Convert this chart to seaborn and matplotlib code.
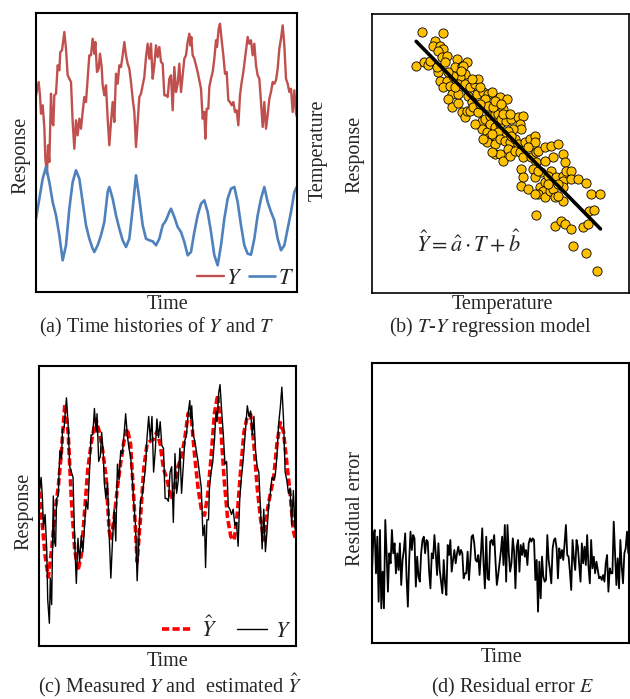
"""
Four-panel figure: time histories, T-Y regression, fitted response, residual error
"""

import numpy as np
import pandas as pd
import matplotlib
matplotlib.use("Agg")
import matplotlib.pyplot as plt
import seaborn as sns

# ---- measured response Y (time in samples) ----
time_y = [0, 8, 12, 15, 20, 25, 28, 33, 36, 40, 45, 48, 52, 55, 60, 65, 70, 73, 78, 82,
          85, 90, 95, 100, 105, 110, 115, 120, 125, 130, 135, 140, 145, 150, 155, 160, 165, 170, 175, 178,
          183, 188, 192, 197, 200, 205, 210, 215, 220, 225, 230, 235, 240, 245, 250, 255, 260, 265, 270, 275,
          280, 285, 290, 295, 300, 305, 310, 315, 320, 325, 330, 335, 340, 345, 350, 355, 360, 365, 370, 375,
          380, 385, 390, 395, 400, 405, 410, 415, 420, 425, 430, 435, 440, 445, 450, 455, 460, 463, 466, 470,
          475, 480, 485, 490, 495, 500, 505, 508, 512, 517, 520, 525, 530, 535, 540, 543, 548, 552, 557, 562,
          567, 572, 577, 582, 587, 592, 597, 602, 607, 612, 617, 622, 627, 632, 635, 640, 645, 650, 655, 660,
          665, 670, 675, 680, 685, 690, 695, 700, 705, 710, 715, 720, 725, 730, 735, 740, 745, 750, 755, 760,
          765, 770, 775, 780, 786]
resp_y = [196.7, 210, 196.7, 178.3, 186.7, 165, 133.3, 118.3, 146.7, 130, 198.3, 170, 166.7, 196.7, 198.3, 226.7, 221.7, 240, 241.7, 251.7,
          260, 243.3, 216.7, 213.3, 210, 170, 143.3, 171.7, 156.7, 173.3, 163.3, 180, 195, 190, 213.3, 236.7, 236.7, 253.3, 238.3, 250,
          220, 223.3, 238.3, 225, 206.7, 196.7, 206.7, 173.3, 146.7, 170, 190, 170, 218.3, 208.3, 226.7, 225, 236.7, 250, 236.7, 228.3,
          223.3, 210, 193.3, 180, 145, 170, 195, 198.3, 206.7, 215, 235, 248.3, 233.3, 248.3, 213.3, 226.7, 246.7, 235, 245, 230,
          228.3, 196.7, 196.7, 195, 213.3, 216.7, 181.7, 225, 200, 208.3, 228.3, 200, 216.7, 233.3, 236.7, 250, 258.3, 246.7, 255, 236.7,
          233.3, 226.7, 220, 211.7, 203.3, 173.3, 180, 153.3, 183.3, 183.3, 205, 213.3, 220, 233.3, 251.7, 245, 263.3, 268.3, 251.7, 236.7,
          218.3, 220, 191.7, 190, 186.7, 190, 180, 181.7, 166.7, 196.7, 210, 220, 233.3, 246.7, 255, 248.3, 251.7, 236.7, 248.3, 226.7,
          216.7, 213.3, 190, 165, 190, 163.3, 176.7, 193.3, 200, 210, 208.3, 211.7, 223.3, 243.3, 253.3, 266.7, 246.7, 213.3, 208.3, 200,
          203.3, 180, 201.7, 178.3, 171.7]

# ---- temperature T ----
time_t = [0, 10, 20, 30, 40, 50, 60, 70, 80, 90, 100, 110, 120, 130, 140, 150, 160, 170, 175, 185,
          195, 205, 215, 220, 230, 240, 250, 260, 270, 280, 290, 300, 310, 320, 330, 340, 350, 360, 370, 380,
          390, 400, 405, 415, 425, 435, 445, 455, 465, 475, 485, 495, 505, 515, 525, 535, 545, 555, 565, 575,
          585, 595, 605, 615, 625, 635, 645, 655, 665, 675, 685, 695, 705, 715, 725, 735, 745, 755, 765, 775, 782]
temp_t = [73.3, 93.3, 113.3, 125, 110, 90, 76.7, 56.7, 31.7, 46.7, 83.3, 110, 121.7, 113.3, 90, 66.7, 53.3, 43.3, 40, 46.7,
          56.7, 70, 100, 105, 93.3, 76.7, 63.3, 51.7, 45, 53.3, 83.3, 116.7, 93.3, 66.7, 53.3, 51.7, 50.7, 46.7, 53.3, 66.7,
          71.7, 80, 83.3, 75, 65, 60, 50, 36.7, 40, 60, 76.7, 88.3, 91.7, 80, 60, 36.7, 26.7, 46.7, 73.3, 93.3,
          103.3, 105, 90, 66.7, 46.7, 38.3, 37.3, 53.3, 76.7, 93.3, 105, 90, 80, 71.7, 53.3, 41.7, 46.7, 63.3, 80, 100, 105]

# ---- scatter for the T-Y regression panel ----
scat_temp = [15.0, 21.5, 13.3, 15.8, 17.0, 19.0, 18.5, 20.5, 21.5, 20.0, 21.0, 22.5, 25.5, 25.0, 27.0, 28.5, 27.5, 28.0, 26.5, 20.0,
             20.5, 22.5, 21.5, 23.5, 24.0, 24.5, 26.0, 28.0, 29.5, 31.0, 31.8, 29.0, 30.0, 31.5, 33.5, 35.0, 36.0, 34.0, 35.0, 38.5,
             40.8, 23.0, 24.0, 26.0, 27.0, 28.0, 28.5, 29.5, 30.5, 32.0, 33.0, 34.0, 35.5, 37.0, 38.0, 36.5, 39.5, 33.0, 34.5, 35.5,
             37.0, 38.5, 39.0, 40.5, 42.0, 44.0, 45.5, 44.5, 45.0, 42.5, 41.0, 39.5, 37.8, 35.0, 34.5, 37.0, 38.5, 40.0, 41.5, 43.0,
             44.0, 46.0, 47.5, 49.0, 49.0, 37.0, 38.5, 39.5, 41.0, 41.5, 43.0, 44.5, 45.5, 48.0, 49.5, 50.0, 52.0, 54.0, 56.0, 54.5,
             57.5, 58.0, 49.5, 52.0, 54.0, 51.0, 48.5, 45.0, 45.5, 45.0, 47.0, 49.0, 50.5, 52.0, 51.5, 53.0, 55.5, 57.5, 57.5, 58.5,
             59.8, 60.0, 50.0, 52.0, 53.5, 54.5, 55.0, 57.5, 57.5, 62.0, 64.5, 66.0, 68.8, 49.5, 55.0, 57.0, 58.0, 60.0, 63.5, 65.0,
             65.5, 67.0, 60.5, 64.5, 67.7, 36.0, 39.5, 26.0, 25.0, 23.0, 17.5, 19.5, 22.0, 26.8, 30.0, 32.5, 37.0, 39.0, 41.5, 32.5,
             31.0, 33.5, 36.0, 42.0, 47.0, 50.0, 53.0, 56.0, 49.0, 56.0]
scat_resp = [78.5, 78.3, 68.5, 69.7, 68.8, 76.0, 74.5, 74.5, 73.5, 73.0, 71.0, 71.5, 70.5, 68.0, 68.5, 69.5, 68.5, 66.0, 65.0, 66.5,
             64.0, 64.0, 62.0, 62.5, 60.0, 65.5, 63.0, 63.0, 62.0, 63.0, 64.5, 59.5, 57.5, 60.0, 60.5, 60.0, 60.5, 58.5, 56.5, 59.0,
             58.5, 58.5, 56.2, 57.2, 54.5, 53.0, 55.0, 55.0, 56.0, 54.5, 52.0, 52.5, 53.5, 54.0, 54.0, 56.0, 55.5, 49.5, 48.5, 51.0,
             50.0, 51.0, 52.5, 52.0, 52.5, 53.0, 53.5, 51.0, 49.5, 49.5, 49.0, 48.0, 48.5, 46.8, 45.5, 45.0, 46.5, 46.0, 45.5, 46.5,
             45.0, 45.5, 46.5, 47.5, 45.5, 42.0, 42.0, 40.0, 43.5, 41.5, 43.0, 42.5, 41.0, 41.0, 42.5, 43.0, 44.0, 44.5, 45.0, 41.0,
             42.0, 39.5, 39.5, 40.0, 37.0, 36.5, 37.5, 37.5, 35.0, 32.5, 31.5, 35.0, 32.0, 33.5, 31.0, 35.5, 35.0, 35.5, 34.0, 37.0,
             36.8, 34.5, 30.0, 29.0, 31.0, 31.5, 29.0, 32.0, 28.0, 34.5, 33.2, 30.0, 30.0, 23.8, 20.5, 22.0, 21.0, 19.5, 20.0, 21.0,
             24.8, 25.2, 14.5, 12.2, 7.0, 42.5, 54.0, 60.0, 62.0, 66.5, 70.0, 68.0, 69.5, 67.0, 64.5, 62.0, 58.0, 57.0, 54.0, 57.0,
             51.0, 46.5, 48.0, 47.5, 44.0, 37.0, 33.0, 29.5, 30.0, 33.0]

# ---- residual error E ----
residual = [-25, 85, 105, -25, 85, -110, 105, -130, -20, -130, 135, 35, -80, 35, 5, 105, 35, 65, -25, 35,
            -15, 65, -60, 15, 45, 95, -35, -125, 15, 100, 45, 90, 80, -65, 25, -35, -50, 35, 75, 85,
            35, 75, 70, -20, -70, 35, 20, 90, 35, -30, 65, -15, -50, -85, 15, -55, -90, 60, 30, 75,
            -20, 15, 45, 5, 35, 55, 30, 45, 35, -40, -25, -25, 40, -45, 15, 85, 90, 65, 15, 10,
            30, -30, 35, 110, 5, -70, 85, -40, -45, 70, 75, 60, 90, 10, -60, -30, 5, 40, 85, 0,
            120, -50, 120, 35, -20, 5, 80, 40, -70, 55, 75, -20, 60, 30, 65, 25, 45, 0, 65, 80,
            70, 80, 75, -45, 15, -140, 10, -100, 25, -35, -50, -45, 90, 15, -15, -55, 50, 75, 80, 50,
            -40, 50, 20, 45, 15, 65, 120, 30, 25, -20, -75, 75, 20, -15, 75, 55, 0, -50, 65, 5,
            55, 0, 90, -5, -55, 75, -10, 25, -25, 10, -15, -40, -35, -45, -30, -50, 5, 30, -80, -10,
            -25, -25, 130, 35, -60, 20, -70, 75, -5, -55, 35, 50, 100, 35]

W, H = 630, 699
FS = 14.5
RED = '#C0504D'
BLUE = '#4F81BD'

sns.set_style("white")
plt.rcParams['font.family'] = ['Liberation Serif', 'DejaVu Serif']
plt.rcParams['mathtext.fontset'] = 'stix'


def box(left, top, right, bottom):
    return [left / W, 1 - bottom / H, (right - left) / W, (bottom - top) / H]


def fig_text(x, y, s, **kw):
    fig.text(x / W, 1 - y / H, s, ha='center', va='center', fontsize=FS, **kw)


def frame(ax, lw=1.5):
    ax.set_xticks([])
    ax.set_yticks([])
    ax.set_xlabel('')
    ax.set_ylabel('')
    for sp in ax.spines.values():
        sp.set_visible(True)
        sp.set_color('black')
        sp.set_linewidth(lw)


df_y = pd.DataFrame({'time': time_y, 'resp': resp_y})
df_t = pd.DataFrame({'time': time_t, 'temp': temp_t})

# regression of Y on T (T interpolated at the Y sample times)
temp_at_y = np.interp(time_y, time_t, temp_t)
a_hat, b_hat = np.polyfit(temp_at_y, resp_y, 1)
df_t['yhat'] = a_hat * df_t['temp'] + b_hat

fig = plt.figure(figsize=(W / 100, H / 100), dpi=100)

# (a) time histories
ax_a = fig.add_axes(box(36, 13, 297, 292))
sns.lineplot(data=df_y, x='time', y='resp', color=RED, lw=1.7, estimator=None, label='$Y$', ax=ax_a)
sns.lineplot(data=df_t, x='time', y='temp', color=BLUE, lw=1.9, estimator=None, label='$T$', ax=ax_a)
ax_a.set_xlim(0, 783)
ax_a.set_ylim(0, 279)
frame(ax_a)
ax_a.legend(loc='lower right', ncol=2, frameon=False, fontsize=16, handlelength=1.2,
            handletextpad=0.1, columnspacing=0.3, borderaxespad=0.05, borderpad=0.1)

# (b) regression scatter
ax_b = fig.add_axes(box(372, 14, 629, 293))
sns.regplot(x=scat_temp, y=scat_resp, ci=None, ax=ax_b,
            scatter_kws=dict(s=44, color='#FFC000', edgecolor='black', linewidths=0.6, alpha=1),
            line_kws=dict(color='black', lw=2.6))
ax_b.set_xlim(0, 77.4)
ax_b.set_ylim(0.3, 84)
frame(ax_b, lw=1.2)
ax_b.text(0.375, 0.18, r'$\hat{Y}=\hat{a}\cdot T+\hat{b}$', transform=ax_b.transAxes,
          ha='center', va='center', fontsize=16)

# (c) measured vs estimated
ax_c = fig.add_axes(box(38.5, 366, 296, 646))
sns.lineplot(data=df_t, x='time', y='yhat', color='red', lw=2.6, estimator=None, label=r'$\hat{Y}$',
             ax=ax_c, dashes=False)
ax_c.lines[-1].set_linestyle((0, (2.0, 0.9)))
sns.lineplot(data=df_y, x='time', y='resp', color='black', lw=1.0, estimator=None, label='$Y$', ax=ax_c)
ax_c.set_xlim(0, 783)
ax_c.set_ylim(104, 280)
frame(ax_c)
ax_c.legend(loc='lower right', ncol=2, frameon=False, fontsize=16, handlelength=1.35,
            handletextpad=0.4, columnspacing=0.9, borderaxespad=0.1, borderpad=0.1)

# (d) residual error
ax_d = fig.add_axes(box(372, 363, 629, 643))
sns.lineplot(x=np.arange(len(residual)), y=residual, color='black', lw=1.3, ax=ax_d)
ax_d.set_xlim(0, 193.5)
ax_d.set_ylim(-234, 606)
frame(ax_d)

# axis labels and captions
fig_text(21, 155, 'Response', rotation=90)
fig_text(168, 304, 'Time')
fig_text(156, 327, r'(a) Time histories of $Y$ and $T$')
fig_text(318, 150, 'Temperature', rotation=90)
fig_text(355, 154, 'Response', rotation=90)
fig_text(502, 304, 'Temperature')
fig_text(490, 327, r'(b) $T$-$Y$ regression model')
fig_text(24, 511, 'Response', rotation=90)
fig_text(168, 661, 'Time')
fig_text(170, 685, r'(c) Measured $Y$ and  estimated $\hat{Y}$')
fig_text(356, 508, 'Residual error', rotation=90)
fig_text(502, 657, 'Time')
fig_text(512, 687, r'(d) Residual error $E$')

fig.savefig('out.png', dpi=100)
